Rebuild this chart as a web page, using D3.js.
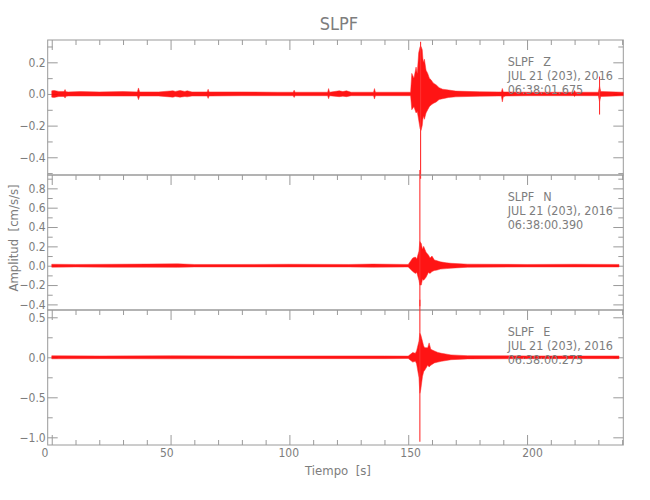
<!DOCTYPE html>
<html><head><meta charset="utf-8">
<script src="https://cdn.jsdelivr.net/npm/d3@7"></script>
<style>
body{margin:0;background:#fff;}
svg text{font-family:"DejaVu Sans Condensed","DejaVu Sans","Liberation Sans Narrow",sans-serif;font-stretch:condensed;fill:#7d7d7d;}
</style></head><body><svg id="c" width="650" height="500"></svg>
<script>
// ---------------- data ----------------
const chartTitle = "SLPF";
const station = "SLPF";
const channels = ["Z", "N", "E"];
const dateLabel = "JUL 21 (203), 2016";
const startTimes = ["06:38:01.675", "06:38:00.390", "06:38:00.275"];
const xTickValues = [0, 50, 100, 150, 200];
const xLabel = "Tiempo  [s]";
const yLabel = "Amplitud  [cm/s/s]";

// envelope of each trace (time s, upper, lower)
const zTime  = [0,1,3,5.2,5.6,6,7,12,20,30,36,36.5,37,45,51,52,54,56,57,59,65.4,65.8,66.2,80,95,101.6,102,102.4,110,116.1,116.5,116.9,121,122.5,124,126,135.4,135.8,136.2,151,151.5,152.4,153.3,153.8,154.4,155.0,155.4,155.9,156.3,156.8,157.5,158.2,158.9,159.6,160.5,161.8,163,164.5,167,170,180,188,189.2,189.6,190,191,200,215,219.6,220,220.4,230,230.5,231,240.5];
const zUpper = [0.02,0.022,0.016,0.016,0.028,0.014,0.013,0.015,0.013,0.015,0.013,0.038,0.013,0.013,0.02,0.016,0.022,0.016,0.02,0.013,0.013,0.03,0.013,0.013,0.011,0.011,0.024,0.011,0.011,0.011,0.034,0.011,0.02,0.015,0.02,0.011,0.011,0.034,0.011,0.011,0.13,0.10,0.17,0.13,0.26,0.30,0.30,0.28,0.20,0.22,0.15,0.13,0.10,0.09,0.07,0.057,0.04,0.03,0.025,0.018,0.014,0.013,0.013,0.035,0.013,0.013,0.011,0.011,0.011,0.022,0.011,0.011,0.05,0.016,0.011];
const zLower = [-0.02,-0.022,-0.016,-0.016,-0.026,-0.014,-0.013,-0.013,-0.013,-0.013,-0.013,-0.036,-0.013,-0.013,-0.02,-0.016,-0.02,-0.016,-0.018,-0.013,-0.013,-0.028,-0.013,-0.011,-0.011,-0.011,-0.022,-0.011,-0.011,-0.011,-0.03,-0.011,-0.017,-0.014,-0.017,-0.011,-0.011,-0.032,-0.011,-0.011,-0.10,-0.08,-0.12,-0.11,-0.165,-0.22,-0.23,-0.20,-0.14,-0.16,-0.12,-0.10,-0.08,-0.07,-0.06,-0.05,-0.035,-0.03,-0.022,-0.018,-0.014,-0.013,-0.013,-0.05,-0.018,-0.013,-0.011,-0.011,-0.011,-0.016,-0.011,-0.011,-0.05,-0.016,-0.011];

const nTime  = [0,10,25,40,53,60,80,100,125,135,150,151.9,153,153.6,154.5,154.9,155.5,156.0,156.5,157.5,158.5,159.2,160,161,162.2,163.5,166,168,175,200,220,238.7];
const nUpper = [0.015,0.013,0.015,0.017,0.019,0.013,0.013,0.015,0.013,0.017,0.013,0.08,0.09,0.07,0.15,0.25,0.23,0.17,0.20,0.14,0.11,0.08,0.10,0.06,0.05,0.04,0.03,0.025,0.016,0.013,0.015,0.013];
const nLower = [-0.015,-0.013,-0.015,-0.015,-0.017,-0.013,-0.013,-0.013,-0.013,-0.015,-0.013,-0.06,-0.08,-0.07,-0.15,-0.20,-0.20,-0.14,-0.15,-0.12,-0.07,-0.08,-0.06,-0.05,-0.045,-0.035,-0.03,-0.025,-0.016,-0.013,-0.013,-0.013];

const eTime  = [0,20,50,80,110,140,150,151.9,153,153.5,154.5,154.9,155.3,156.0,156.5,157,158.2,158.8,159.5,161,162.5,164,168,175,200,238.7];
const eUpper = [0.019,0.017,0.019,0.017,0.017,0.017,0.015,0.06,0.05,0.08,0.20,0.30,0.28,0.20,0.14,0.12,0.12,0.18,0.10,0.08,0.06,0.05,0.03,0.02,0.017,0.017];
const eLower = [-0.019,-0.017,-0.019,-0.017,-0.017,-0.017,-0.015,-0.06,-0.05,-0.08,-0.25,-0.45,-0.40,-0.24,-0.18,-0.16,-0.10,-0.12,-0.10,-0.07,-0.06,-0.05,-0.03,-0.02,-0.017,-0.017];

// isolated spikes (time, top, bottom)
const zSpikeT = [155.2, 230.5];
const zSpikeHi = [0.33, 0.11];
const zSpikeLo = [-0.535, -0.13];
const nSpikeT = [154.9];
const nSpikeHi = [0.99];
const nSpikeLo = [-0.42];
const eSpikeT = [154.9];
const eSpikeHi = [0.72];
const eSpikeLo = [-1.055];

// y-axis domains and ticks per panel
const zDomain = [-0.512, 0.341], zMajor = [-0.4,-0.2,0,0.2], zMinor = [-0.5,-0.3,-0.1,0.1,0.3];
const nDomain = [-0.458, 0.938], nMajor = [-0.4,-0.2,0,0.2,0.4,0.6,0.8], nMinor = [-0.3,-0.1,0.1,0.3,0.5,0.7,0.9];
const eDomain = [-1.096, 0.591], eMajor = [-1.0,-0.5,0,0.5], eMinor = [-0.75,-0.25,0.25];

// ---------------- drawing ----------------
const svg = d3.select("#c");
const L = 47.7, R = 623.3;
const tops = [40, 175, 310], H = 135;
const axisColor = "#9a9a9a";
const red = "#ff0000";

const x = d3.scaleLinear().domain([-1.7, 240.5]).range([L, R]);
// tick labels in the source sit on a slightly wider spacing than the ticks
const xLab = d3.scaleLinear().domain([0, 200]).range([44.4, 532]);
const xMinor = d3.range(0, 241, 10).filter(v => v % 50 !== 0);

const panels = [
  {t: zTime, hi: zUpper, lo: zLower, st: zSpikeT, sh: zSpikeHi, sl: zSpikeLo, dom: zDomain, maj: zMajor, min: zMinor},
  {t: nTime, hi: nUpper, lo: nLower, st: nSpikeT, sh: nSpikeHi, sl: nSpikeLo, dom: nDomain, maj: nMajor, min: nMinor},
  {t: eTime, hi: eUpper, lo: eLower, st: eSpikeT, sh: eSpikeHi, sl: eSpikeLo, dom: eDomain, maj: eMajor, min: eMinor}
];
const fmt = v => (v < 0 ? "\u2212" : "") + Math.abs(v).toFixed(1);

panels.forEach((p, i) => {
  const top = tops[i], bot = top + H;
  const y = d3.scaleLinear().domain(p.dom).range([bot, top]);
  const g = svg.append("g");
  g.append("rect").attr("x", L).attr("y", top).attr("width", R - L).attr("height", H)
    .attr("fill", "none").attr("stroke", axisColor).attr("stroke-width", 1);
  g.append("g").attr("transform", `translate(${L},0)`)
    .call(d3.axisLeft(y).tickValues(p.maj).tickSize(-10).tickPadding(2).tickFormat(fmt));
  g.append("g").attr("transform", `translate(${L},0)`)
    .call(d3.axisLeft(y).tickValues(p.min).tickSize(-5).tickFormat(""));
  g.append("g").attr("transform", `translate(${R},0)`)
    .call(d3.axisRight(y).tickValues(p.maj).tickSize(-10).tickFormat(""));
  g.append("g").attr("transform", `translate(${R},0)`)
    .call(d3.axisRight(y).tickValues(p.min).tickSize(-5).tickFormat(""));
  g.append("g").attr("transform", `translate(0,${top})`)
    .call(d3.axisTop(x).tickValues(xTickValues).tickSize(-10).tickFormat(""));
  g.append("g").attr("transform", `translate(0,${top})`)
    .call(d3.axisTop(x).tickValues(xMinor).tickSize(-5).tickFormat(""));
  if (i === 2) {
    g.append("g").attr("transform", `translate(0,${bot})`)
      .call(d3.axisBottom(x).tickValues(xTickValues).tickSize(-10).tickFormat(""));
    g.append("g").attr("transform", `translate(0,${bot})`)
      .call(d3.axisBottom(x).tickValues(xMinor).tickSize(-5).tickFormat(""));
    g.append("g").attr("transform", `translate(0,${bot})`)
      .call(d3.axisBottom(xLab).tickValues(xTickValues).tickSize(0).tickPadding(3).tickFormat(d3.format("d")));
  }
  const pts = p.t.map((t, k) => ({t, hi: p.hi[k], lo: p.lo[k]}));
  g.append("path").datum(pts)
    .attr("d", d3.area().x(d => x(d.t)).y0(d => y(d.lo)).y1(d => y(d.hi)))
    .attr("fill", red).attr("fill-opacity", 0.92).attr("stroke", "#ff2a2a").attr("stroke-width", 0.5);
  g.selectAll("line.spike").data(p.st.map((t, k) => ({t, hi: p.sh[k], lo: p.sl[k]})))
    .enter().append("line").attr("class", "spike")
    .attr("x1", d => x(d.t)).attr("x2", d => x(d.t))
    .attr("y1", d => y(d.hi)).attr("y2", d => y(d.lo))
    .attr("stroke", "#ff3030").attr("stroke-width", 1.1);
  const ann = g.append("g").attr("font-size", 12.5);
  ann.append("text").attr("x", 507.7).attr("y", top + 25.7).text(station);
  ann.append("text").attr("x", 543.3).attr("y", top + 25.7).text(channels[i]);
  ann.append("text").attr("x", 507.7).attr("y", top + 40).text(dateLabel);
  ann.append("text").attr("x", 507.7).attr("y", top + 54).text(startTimes[i]);
});

svg.selectAll(".domain").remove();
svg.selectAll(".tick line").attr("stroke", axisColor);
svg.selectAll(".tick text").attr("font-size", 12).attr("fill", "#7d7d7d");

svg.append("text").attr("x", 339).attr("y", 30).attr("text-anchor", "middle")
  .attr("font-size", 18).text(chartTitle);
svg.append("text").attr("x", 338).attr("y", 475).attr("text-anchor", "middle")
  .attr("font-size", 13).style("white-space", "pre").text(xLabel);
svg.append("text").attr("transform", "translate(18,238) rotate(-90)").attr("text-anchor", "middle")
  .attr("font-size", 13).style("white-space", "pre").text(yLabel);
</script></body></html>
